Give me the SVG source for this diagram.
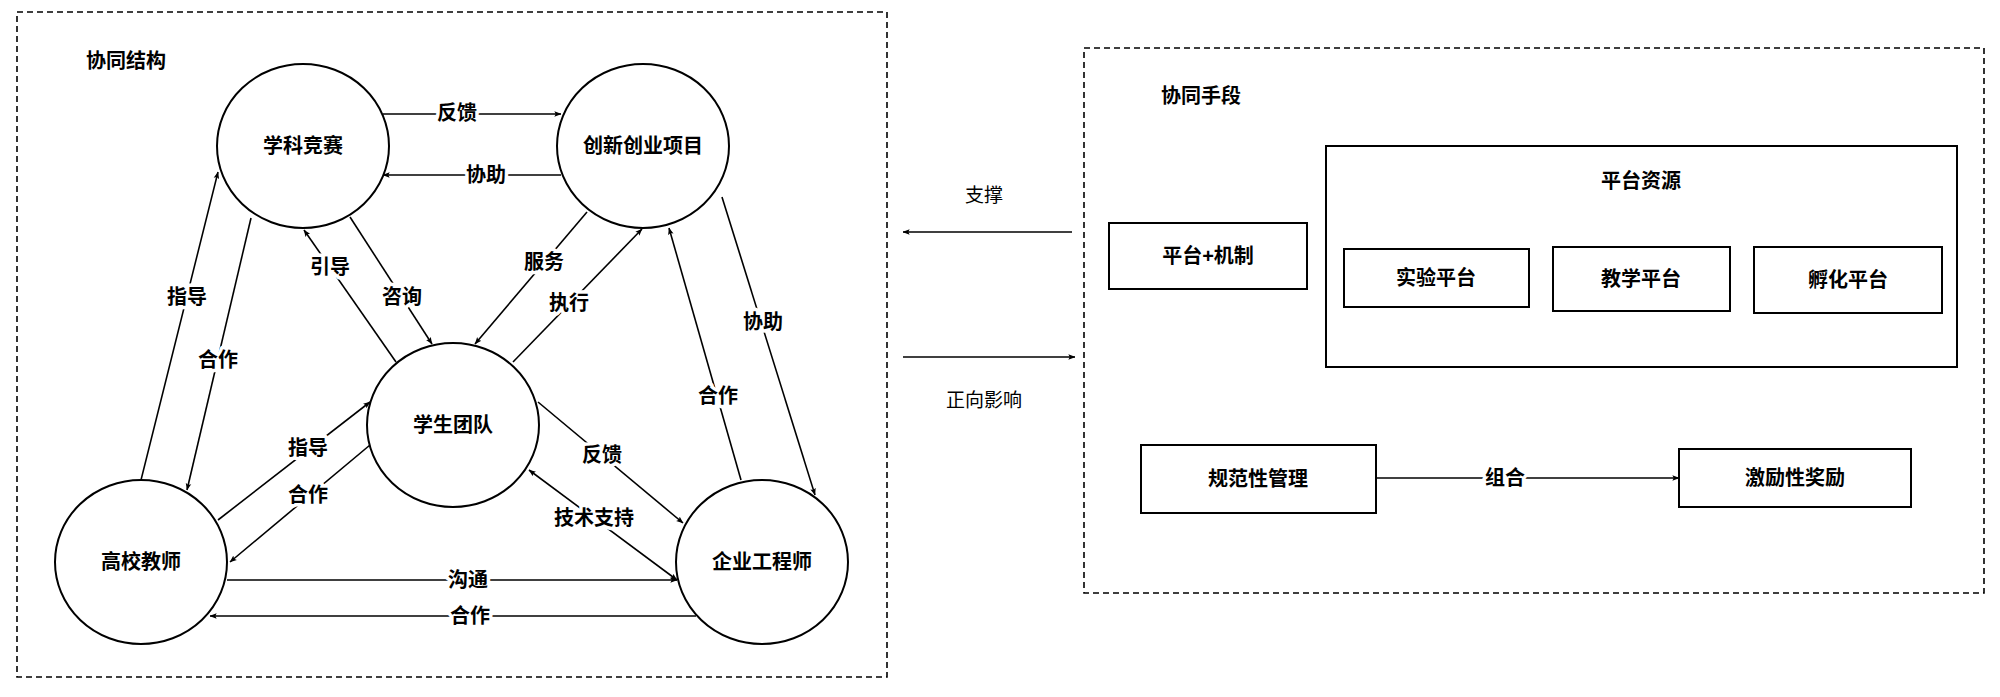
<svg xmlns="http://www.w3.org/2000/svg" width="2000" height="697" viewBox="0 0 2000 697">
<style>
text{font-family:"Liberation Sans","Noto Sans CJK SC",sans-serif;fill:#000;}
.t{font-size:20px;font-weight:bold;text-anchor:middle;dominant-baseline:central;}
.n{font-size:19px;font-weight:normal;text-anchor:middle;dominant-baseline:central;}
.h{font-size:20px;font-weight:bold;dominant-baseline:central;}
.lbl{font-size:20px;font-weight:bold;text-anchor:middle;dominant-baseline:central;stroke:#fff;stroke-width:7;paint-order:stroke;stroke-linejoin:round;}
.node{fill:#fff;stroke:#000;stroke-width:2;}
.frame{fill:none;stroke:#000;stroke-width:1.6;stroke-dasharray:6 4;}
.e{fill:none;stroke:#000;stroke-width:1.6;marker-end:url(#ah);}
.b{marker-start:url(#as);}
</style>
<defs>
<marker id="ah" viewBox="0 0 10 10" refX="9.5" refY="5" markerWidth="7" markerHeight="7" orient="auto" markerUnits="userSpaceOnUse">
<path d="M0,1 L10,5 L0,9 L2,5 Z" fill="#000"/>
</marker>
<marker id="as" viewBox="0 0 10 10" refX="0.5" refY="5" markerWidth="7" markerHeight="7" orient="auto" markerUnits="userSpaceOnUse">
<path d="M10,1 L0,5 L10,9 L8,5 Z" fill="#000"/>
</marker>
</defs>
<rect width="2000" height="697" fill="#fff"/>

<g id="frame-structure">
<rect class="frame" x="17" y="12" width="870" height="665"/>
<text class="h" x="86" y="61">协同结构</text>
</g>
<g id="frame-means">
<rect class="frame" x="1084" y="48" width="900" height="545"/>
<text class="h" x="1161" y="96">协同手段</text>
</g>

<g id="connectors">
<line class="e" x1="383" y1="114" x2="561" y2="114"/>
<line class="e" x1="561" y1="175" x2="383" y2="175"/>
<line class="e" x1="141" y1="480" x2="218" y2="172"/>
<line class="e" x1="251" y1="218" x2="187" y2="490"/>
<line class="e" x1="396" y1="362" x2="304" y2="230"/>
<line class="e" x1="350" y1="217" x2="432" y2="344"/>
<line class="e" x1="587" y1="212" x2="475" y2="344"/>
<line class="e" x1="513" y1="362" x2="642" y2="229"/>
<line class="e" x1="722" y1="197" x2="815" y2="495"/>
<line class="e" x1="741" y1="480" x2="669" y2="228"/>
<line class="e" x1="218" y1="520" x2="370" y2="402"/>
<line class="e" x1="370" y1="445" x2="230" y2="562"/>
<line class="e" x1="538" y1="402" x2="683" y2="523"/>
<line class="e b" x1="677" y1="580" x2="529" y2="470"/>
<line class="e" x1="227" y1="580" x2="677" y2="580"/>
<line class="e" x1="696" y1="616" x2="210" y2="616"/>
<line class="e" x1="1072" y1="232" x2="903" y2="232"/>
<line class="e" x1="903" y1="357" x2="1075" y2="357"/>
<line class="e" x1="1376" y1="478" x2="1679" y2="478"/>
<text class="lbl" x="457" y="113">反馈</text>
<text class="lbl" x="486" y="175">协助</text>
<text class="lbl" x="187" y="297">指导</text>
<text class="lbl" x="218" y="360">合作</text>
<text class="lbl" x="330" y="267">引导</text>
<text class="lbl" x="402" y="297">咨询</text>
<text class="lbl" x="544" y="262">服务</text>
<text class="lbl" x="569" y="303">执行</text>
<text class="lbl" x="763" y="322">协助</text>
<text class="lbl" x="718" y="396">合作</text>
<text class="lbl" x="308" y="448">指导</text>
<text class="lbl" x="308" y="495">合作</text>
<text class="lbl" x="602" y="455">反馈</text>
<text class="lbl" x="594" y="518">技术支持</text>
<text class="lbl" x="468" y="580">沟通</text>
<text class="lbl" x="470" y="616">合作</text>
<text class="lbl" x="1505" y="478">组合</text>
<text class="n" x="984" y="195">支撑</text>
<text class="n" x="984" y="400">正向影响</text>
</g>

<g id="n-xkjs"><ellipse class="node" cx="303" cy="146" rx="86" ry="82"/><text class="t" x="303" y="146">学科竞赛</text></g>
<g id="n-cxcy"><ellipse class="node" cx="643" cy="146" rx="86" ry="82"/><text class="t" x="643" y="146">创新创业项目</text></g>
<g id="n-xstd"><ellipse class="node" cx="453" cy="425" rx="86" ry="82"/><text class="t" x="453" y="425">学生团队</text></g>
<g id="n-gxjs"><ellipse class="node" cx="141" cy="562" rx="86" ry="82"/><text class="t" x="141" y="562">高校教师</text></g>
<g id="n-qygcs"><ellipse class="node" cx="762" cy="562" rx="86" ry="82"/><text class="t" x="762" y="562">企业工程师</text></g>

<g id="n-ptzy"><rect class="node" x="1326" y="146" width="631" height="221"/><text class="t" x="1641" y="181">平台资源</text></g>
<g id="n-ptjz"><rect class="node" x="1109" y="223" width="198" height="66"/><text class="t" x="1208" y="256">平台+机制</text></g>
<g id="n-sypt"><rect class="node" x="1344" y="249" width="185" height="58"/><text class="t" x="1436" y="278">实验平台</text></g>
<g id="n-jxpt"><rect class="node" x="1553" y="247" width="177" height="64"/><text class="t" x="1641" y="279">教学平台</text></g>
<g id="n-fhpt"><rect class="node" x="1754" y="247" width="188" height="66"/><text class="t" x="1848" y="280">孵化平台</text></g>
<g id="n-gfxgl"><rect class="node" x="1141" y="445" width="235" height="68"/><text class="t" x="1258" y="479">规范性管理</text></g>
<g id="n-jlxjl"><rect class="node" x="1679" y="449" width="232" height="58"/><text class="t" x="1795" y="478">激励性奖励</text></g>
</svg>
